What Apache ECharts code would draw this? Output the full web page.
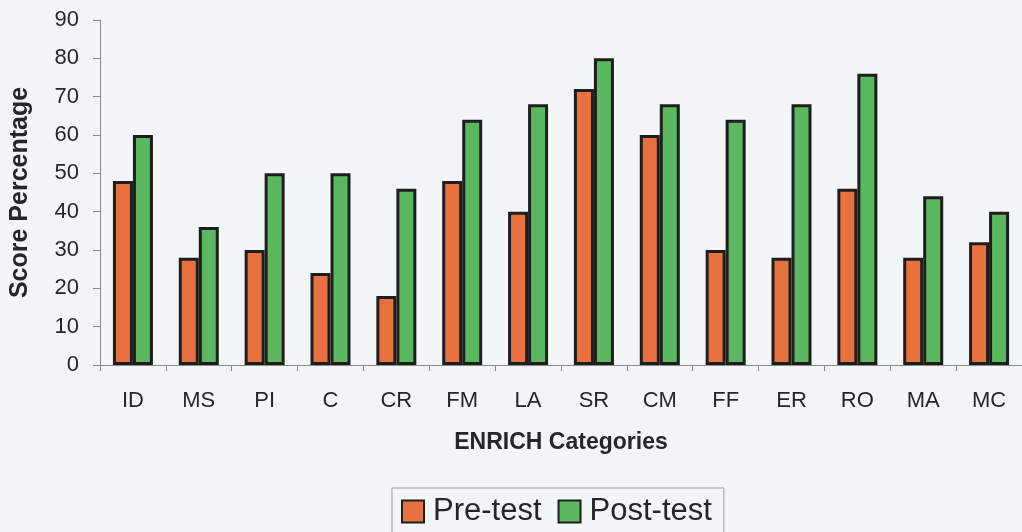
<!DOCTYPE html>
<html>
<head>
<meta charset="utf-8">
<script src="https://cdn.jsdelivr.net/npm/echarts@6/dist/echarts.min.js"></script>
<style>
  html, body { margin: 0; padding: 0; background: #f3f6f9; }
  #chart { width: 1022px; height: 532px; }
</style>
</head>
<body>
<div id="chart"></div>
<script>
// ENRICH category scores before and after the program
const categories = ['ID', 'MS', 'PI', 'C', 'CR', 'FM', 'LA', 'SR', 'CM', 'FF', 'ER', 'RO', 'MA', 'MC'];
const preTest  = [48, 28, 30, 24, 18, 48, 40, 72, 60, 30, 28, 46, 28, 32];
const postTest = [60, 36, 50, 50, 46, 64, 68, 80, 68, 64, 68, 76, 44, 40];

const FONT = '"Liberation Sans", Arial, sans-serif';
const TEXT = '#262626';
const AXIS = '#8a8a8a';

const chart = echarts.init(document.getElementById('chart'), null, { renderer: 'canvas' });
chart.setOption({
  backgroundColor: '#f3f6f9',
  animation: false,
  textStyle: { fontFamily: FONT, color: TEXT },
  grid: { left: 97, right: 0, top: 20, bottom: 167, containLabel: false },
  legend: {
    left: 392,
    top: 488,
    padding: [8, 12, 20, 9],
    itemWidth: 22,
    itemHeight: 22,
    itemGap: 16,
    icon: 'rect',
    borderColor: '#9a9a9a',
    borderWidth: 1,
    textStyle: { fontFamily: FONT, fontSize: 31, color: TEXT, padding: [0, 0, 0, 4] },
    data: ['Pre-test', 'Post-test']
  },
  xAxis: {
    type: 'category',
    data: categories,
    name: 'ENRICH Categories',
    nameLocation: 'middle',
    nameGap: 66,
    nameTextStyle: { fontFamily: FONT, fontSize: 23, fontWeight: 'bold', color: TEXT },
    axisLine: { lineStyle: { color: AXIS, width: 1 } },
    axisTick: { show: true, length: 6, alignWithLabel: false, lineStyle: { color: AXIS } },
    axisLabel: { fontFamily: FONT, fontSize: 22, color: TEXT, margin: 25 }
  },
  yAxis: {
    type: 'value',
    min: 0,
    max: 90,
    interval: 10,
    name: 'Score Percentage',
    nameLocation: 'middle',
    nameRotate: 90,
    nameGap: 67,
    nameTextStyle: { fontFamily: FONT, fontSize: 25, fontWeight: 'bold', color: TEXT },
    axisLine: { show: true, lineStyle: { color: AXIS, width: 1 } },
    axisTick: { show: true, length: 7, lineStyle: { color: AXIS } },
    axisLabel: { fontFamily: FONT, fontSize: 22, color: TEXT, margin: 21 },
    splitLine: { show: false }
  },
  series: [
    {
      name: 'Pre-test',
      type: 'bar',
      data: preTest,
      barWidth: 20,
      barGap: '0%',
      itemStyle: { color: '#e8723f', borderColor: '#1e1e1e', borderWidth: 3 }
    },
    {
      name: 'Post-test',
      type: 'bar',
      data: postTest,
      barWidth: 20,
      itemStyle: { color: '#5bb85e', borderColor: '#1e1e1e', borderWidth: 3 }
    }
  ]
});
</script>
</body>
</html>
